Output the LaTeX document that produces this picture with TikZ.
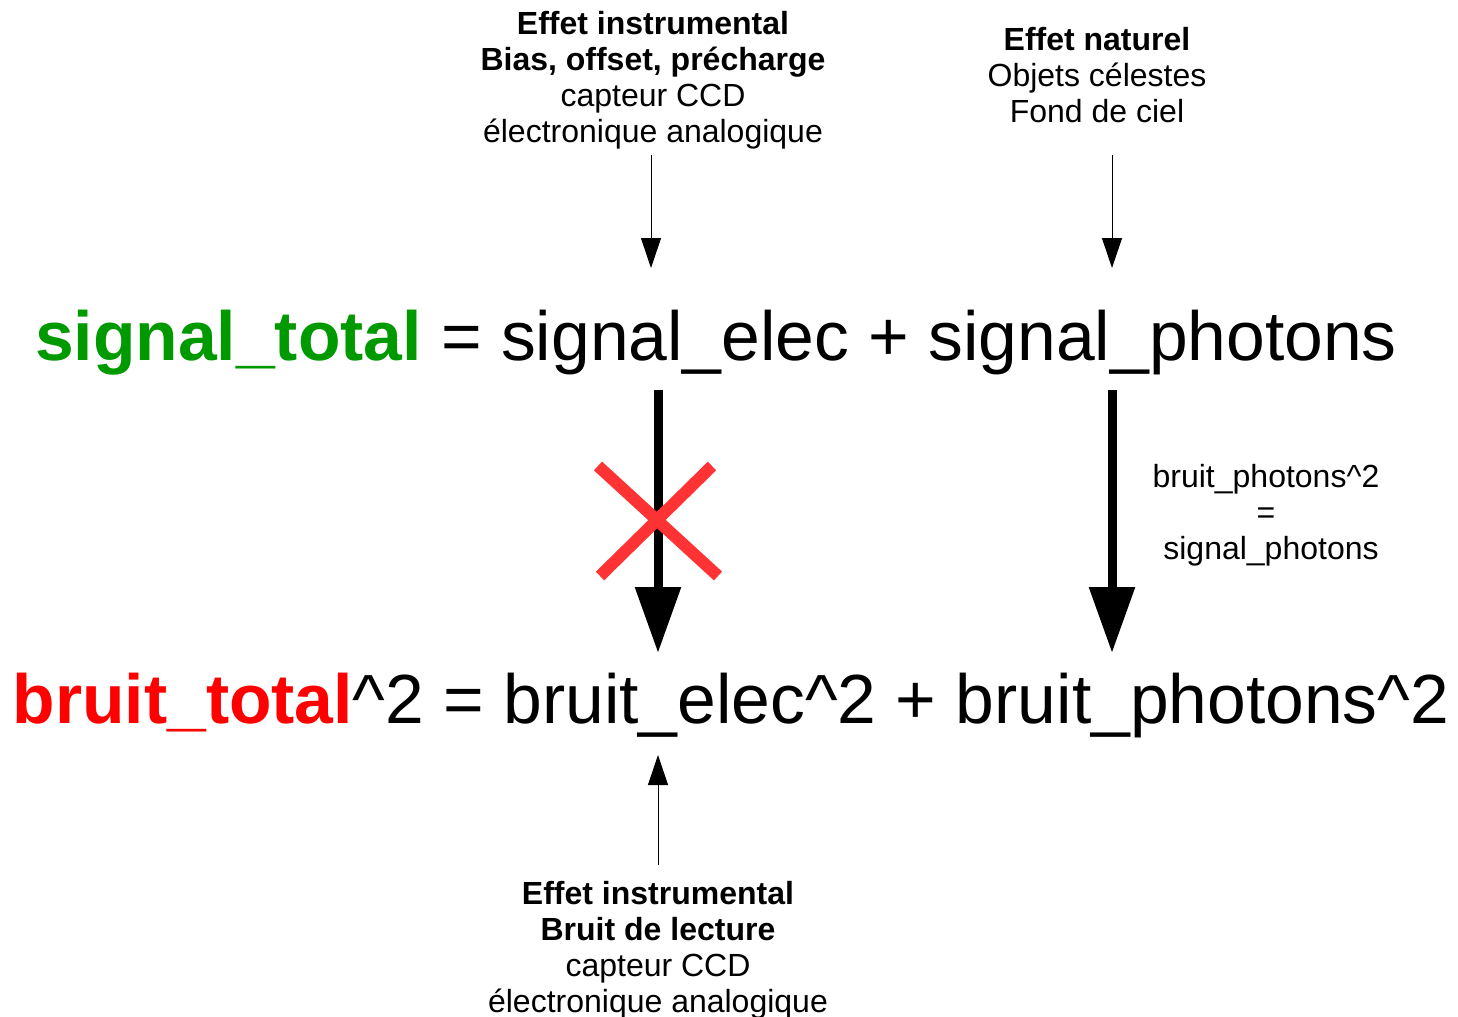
\documentclass[tikz,border=0pt]{standalone}
\usepackage{fontspec}
\setmainfont{Liberation Sans}
\usetikzlibrary{arrows.meta}
\definecolor{sgreen}{RGB}{0,153,0}
\definecolor{bred}{RGB}{255,0,0}
\definecolor{xred}{RGB}{255,51,51}
\begin{document}
\begin{tikzpicture}[x=0.5pt,y=-0.5pt,
  lab/.style={align=center,inner sep=0pt,font=\fontsize{16}{18}\selectfont},
  eq/.style={inner sep=0pt,font=\fontsize{34.8}{40}\selectfont},
  thin/.style={line width=0.5pt,-{Triangle[length=15pt,width=10pt]}},
  thick/.style={line width=4.5pt,-{Triangle[length=33pt,width=22pt]}},
  cross/.style={xred,line width=6pt}]
\useasboundingbox (0,0) rectangle (1458,1017);
% labels
\node[lab,anchor=north] (l1) at (653,11) {\textbf{Effet instrumental}\\\textbf{Bias, offset, précharge}\\capteur CCD\\électronique analogique};
\node[lab,anchor=north] (l2) at (1097,27) {\textbf{Effet naturel}\\Objets célestes\\Fond de ciel};
\node[lab,anchor=north] (l3) at (658,881) {\textbf{Effet instrumental}\\\textbf{Bruit de lecture}\\capteur CCD\\électronique analogique};
\node[lab,anchor=north] (l4) at (1266,464) {bruit\_photons\textasciicircum2\\=\\\hspace*{5pt}signal\_photons};
% equations
\node[eq,anchor=base] (sig) at (716,360) {\textcolor{sgreen}{\textbf{signal\_total}} = signal\_elec + signal\_photons};
\node[eq,anchor=base] (bru) at (731,723) {\textcolor{bred}{\textbf{bruit\_total}}\textasciicircum2 = bruit\_elec\textasciicircum2 + bruit\_photons\textasciicircum2};
% arrow coordinates
\coordinate (a1s) at (651,155); \coordinate (a1e) at (651,268);
\coordinate (a2s) at (1112,155); \coordinate (a2e) at (1112,268);
\coordinate (b1s) at (658,390); \coordinate (b1e) at (658,653);
\coordinate (b2s) at (1112,390); \coordinate (b2e) at (1112,653);
\coordinate (c1s) at (658,865); \coordinate (c1e) at (658,755);
\draw[thin] (a1s) -- (a1e);
\draw[thin] (a2s) -- (a2e);
\draw[thin] (c1s) -- (c1e);
\draw[thick] (b1s) -- (b1e);
\draw[thick] (b2s) -- (b2e);
% cross
\coordinate (x1) at (598,466); \coordinate (x2) at (718,576);
\coordinate (x3) at (712,466); \coordinate (x4) at (600,576);
\draw[cross] (x1) -- (x2);
\draw[cross] (x3) -- (x4);
\end{tikzpicture}
\end{document}
